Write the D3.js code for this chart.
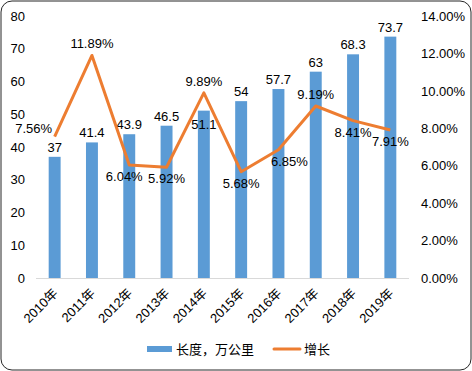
<!DOCTYPE html>
<html>
<head>
<meta charset="utf-8">
<script src="https://cdn.jsdelivr.net/npm/d3@7"></script>
<style>
body { margin: 0; background: #fff; }
svg text { font-family: "Liberation Sans", "Noto Sans CJK SC", sans-serif; font-size: 13px; fill: #000; }
</style>
</head>
<body>
<div id="chart"></div>
<script>
// data
var years = ["2010年", "2011年", "2012年", "2013年", "2014年", "2015年", "2016年", "2017年", "2018年", "2019年"];
var lengths = [37, 41.4, 43.9, 46.5, 51.1, 54, 57.7, 63, 68.3, 73.7];
var growth = [7.56, 11.89, 6.04, 5.92, 9.89, 5.68, 6.85, 9.19, 8.41, 7.91];
var leftTicks = [0, 10, 20, 30, 40, 50, 60, 70, 80];
var rightTicks = [0, 2, 4, 6, 8, 10, 12, 14];
var seriesNames = ["长度，万公里", "增长"];

// where each growth label sits relative to its point
var growthLabelPos = ["left", "above", "belowleft", "below", "above", "below", "belowright", "above", "below", "below"];

var W = 472, H = 371;
var plot = {left: 36, right: 409, top: 16, bottom: 278};

var svg = d3.select("#chart").append("svg")
  .attr("width", W)
  .attr("height", H);

// chart border
svg.append("rect")
  .attr("x", 1).attr("y", 1)
  .attr("width", W - 2).attr("height", H - 2)
  .attr("rx", 11).attr("ry", 11)
  .attr("fill", "#fff")
  .attr("stroke", "#262626")
  .attr("stroke-width", 1);

var x = d3.scaleBand()
  .domain(years)
  .range([plot.left, plot.right])
  .paddingInner(0.68)
  .paddingOuter(0.34);

var y = d3.scaleLinear().domain([0, 80]).range([plot.bottom, plot.top]);
var y2 = d3.scaleLinear().domain([0, 14]).range([plot.bottom, plot.top]);

// left axis (labels only)
var yAxis = svg.append("g")
  .attr("transform", "translate(" + (plot.left - 11) + ",0)")
  .call(d3.axisLeft(y).tickValues(leftTicks).tickSize(0).tickPadding(0));
yAxis.select(".domain").remove();

// right axis
var y2Axis = svg.append("g")
  .attr("transform", "translate(421,0)")
  .call(d3.axisRight(y2).tickValues(rightTicks).tickSize(0).tickPadding(0)
    .tickFormat(function(d) { return d.toFixed(2) + "%"; }));
y2Axis.select(".domain").remove();

// bars
svg.selectAll(".bar")
  .data(lengths)
  .enter().append("rect")
  .attr("class", "bar")
  .attr("x", function(d, i) { return x(years[i]); })
  .attr("y", function(d) { return y(d); })
  .attr("width", x.bandwidth())
  .attr("height", function(d) { return y(0) - y(d); })
  .attr("fill", "#5B9BD5");

// x baseline
var xAxis = svg.append("g")
  .attr("transform", "translate(0," + plot.bottom + ")")
  .call(d3.axisBottom(x).tickSize(0).tickPadding(0));
xAxis.select(".domain").attr("stroke", "#d9d9d9").attr("d", "M" + plot.left + ",0.5H" + plot.right);
xAxis.selectAll("text")
  .attr("text-anchor", "end")
  .attr("dy", null)
  .attr("y", 0)
  .attr("transform", "translate(4,16) rotate(-45)");

// bar value labels
svg.selectAll(".barLabel")
  .data(lengths)
  .enter().append("text")
  .attr("class", "barLabel")
  .attr("x", function(d, i) { return x(years[i]) + x.bandwidth() / 2; })
  .attr("y", function(d, i) { return i == 4 ? y(d) + 18 : y(d) - 5; })
  .attr("text-anchor", "middle")
  .text(function(d) { return d; });

// growth line
var cx = function(d, i) { return x(years[i]) + x.bandwidth() / 2; };
svg.append("path")
  .datum(growth)
  .attr("fill", "none")
  .attr("stroke", "#ED7D31")
  .attr("stroke-width", 3)
  .attr("stroke-linejoin", "round")
  .attr("d", d3.line().x(cx).y(function(d) { return y2(d); }));

// growth labels
svg.selectAll(".growthLabel")
  .data(growth)
  .enter().append("text")
  .attr("class", "growthLabel")
  .attr("x", function(d, i) {
    var p = growthLabelPos[i];
    if (p == "left") return cx(d, i) - 21;
    if (p == "belowleft") return cx(d, i) - 5;
    if (p == "belowright") return cx(d, i) + 11;
    return cx(d, i);
  })
  .attr("y", function(d, i) {
    var p = growthLabelPos[i];
    if (p == "above") return y2(d) - 7;
    if (p == "left") return y2(d) - 4;
    return y2(d) + 16;
  })
  .attr("text-anchor", "middle")
  .text(function(d) { return d.toFixed(2) + "%"; });

// legend
var legend = svg.append("g").attr("transform", "translate(0,349)");
legend.append("rect")
  .attr("x", 147).attr("y", -3)
  .attr("width", 25).attr("height", 6)
  .attr("fill", "#5B9BD5");
legend.append("text")
  .attr("x", 176).attr("y", 0).attr("dy", "0.35em")
  .text(seriesNames[0]);
legend.append("line")
  .attr("x1", 274).attr("x2", 300)
  .attr("stroke", "#ED7D31")
  .attr("stroke-width", 3)
  .attr("stroke-linecap", "round");
legend.append("text")
  .attr("x", 304).attr("y", 0).attr("dy", "0.35em")
  .text(seriesNames[1]);
</script>
</body>
</html>
